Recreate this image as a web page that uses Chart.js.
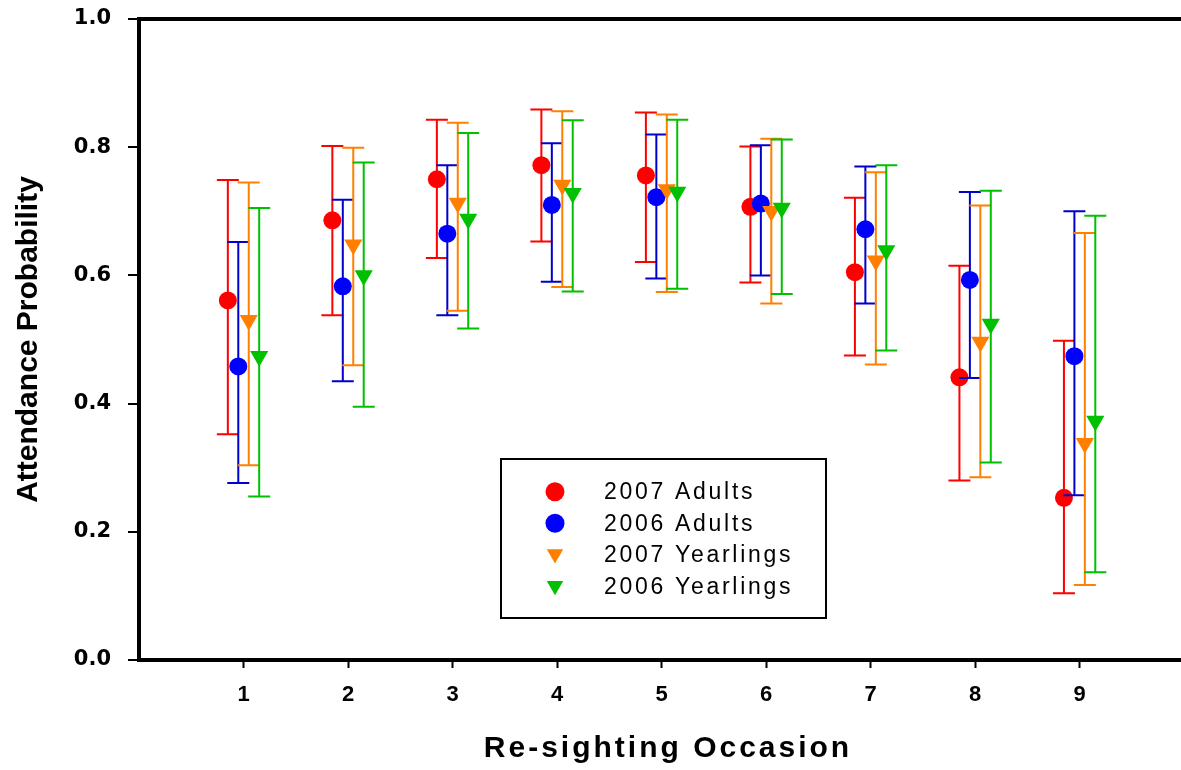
<!DOCTYPE html>
<html>
<head>
<meta charset="utf-8">
<script src="https://cdn.jsdelivr.net/npm/chart.js@4.4.1/dist/chart.umd.min.js"></script>
<style>
  html, body { margin: 0; padding: 0; background: #ffffff; }
  #wrap { width: 1181px; height: 770px; }
</style>
</head>
<body>
<div id="wrap"><canvas id="c" width="1181" height="770"></canvas></div>
<script>
// ---------------- data ----------------
const occasions = [1, 2, 3, 4, 5, 6, 7, 8, 9];
const xTickLabels = ['1', '2', '3', '4', '5', '6', '7', '8', '9'];
const yTickValues = [0, 0.2, 0.4, 0.6, 0.8, 1.0];
const yTickLabels = ['0.0', '0.2', '0.4', '0.6', '0.8', '1.0'];
const seriesNames = ['2007 Adults', '2006 Adults', '2007 Yearlings', '2006 Yearlings'];

const adults2007     = [0.561, 0.686, 0.750, 0.772, 0.756, 0.707, 0.605, 0.441, 0.253];
const adults2007Low  = [0.352, 0.538, 0.627, 0.653, 0.621, 0.589, 0.475, 0.280, 0.104];
const adults2007High = [0.749, 0.802, 0.843, 0.859, 0.854, 0.801, 0.721, 0.615, 0.498];

const adults2006     = [0.458, 0.583, 0.665, 0.710, 0.722, 0.712, 0.672, 0.593, 0.474];
const adults2006Low  = [0.276, 0.435, 0.538, 0.590, 0.595, 0.600, 0.556, 0.440, 0.257];
const adults2006High = [0.652, 0.718, 0.772, 0.806, 0.820, 0.803, 0.770, 0.730, 0.700];

const yearlings2007     = [0.530, 0.648, 0.713, 0.741, 0.734, 0.700, 0.623, 0.496, 0.338];
const yearlings2007Low  = [0.304, 0.460, 0.545, 0.582, 0.574, 0.556, 0.461, 0.285, 0.117];
const yearlings2007High = [0.745, 0.799, 0.838, 0.856, 0.851, 0.813, 0.761, 0.709, 0.666];

const yearlings2006     = [0.474, 0.600, 0.688, 0.728, 0.730, 0.705, 0.639, 0.524, 0.373];
const yearlings2006Low  = [0.255, 0.395, 0.517, 0.575, 0.579, 0.571, 0.483, 0.308, 0.137];
const yearlings2006High = [0.705, 0.776, 0.822, 0.842, 0.843, 0.812, 0.772, 0.732, 0.693];

// ---------------- build ----------------
function points(vals, lows, highs, dodge) {
  return occasions.map((o, i) => ({ x: o + dodge, y: vals[i], lo: lows[i], hi: highs[i] }));
}

const seriesStyle = [
  { fill: '#ff0000', bar: '#ff0000', style: 'circle',   radius: 9,    rot: 0,   dodge: -0.15 },
  { fill: '#0000ff', bar: '#0000cc', style: 'circle',   radius: 9,    rot: 0,   dodge: -0.05 },
  { fill: '#ff8000', bar: '#ff8000', style: 'triangle', radius: 10.5, rot: 180, dodge: 0.05 },
  { fill: '#00c000', bar: '#00c000', style: 'triangle', radius: 10.5, rot: 180, dodge: 0.15 }
];
const seriesData = [
  [adults2007, adults2007Low, adults2007High],
  [adults2006, adults2006Low, adults2006High],
  [yearlings2007, yearlings2007Low, yearlings2007High],
  [yearlings2006, yearlings2006Low, yearlings2006High]
];

const datasets = seriesNames.map((name, k) => {
  const s = seriesStyle[k];
  const d = seriesData[k];
  return {
    label: name,
    data: points(d[0], d[1], d[2], s.dodge),
    showLine: false,
    pointStyle: s.style,
    pointRadius: s.radius,
    pointRotation: s.rot,
    backgroundColor: s.fill,
    borderColor: s.fill,
    pointBorderWidth: 0,
    errorColor: s.bar,
    order: 4 - k
  };
});

// error bars drawn through the chart's scales, before each dataset's markers
const errorBarPlugin = {
  id: 'errorBars',
  beforeDatasetDraw(chart, args) {
    const ds = chart.data.datasets[args.index];
    const xs = chart.scales.x, ys = chart.scales.y;
    const ctx = chart.ctx;
    const cap = 11;
    ctx.save();
    ctx.strokeStyle = ds.errorColor;
    ctx.lineWidth = 2;
    ctx.lineCap = 'butt';
    ds.data.forEach(p => {
      const x = xs.getPixelForValue(p.x);
      const yl = ys.getPixelForValue(p.lo);
      const yh = ys.getPixelForValue(p.hi);
      ctx.beginPath();
      ctx.moveTo(x, yl); ctx.lineTo(x, yh);
      ctx.moveTo(x - cap, yl); ctx.lineTo(x + cap, yl);
      ctx.moveTo(x - cap, yh); ctx.lineTo(x + cap, yh);
      ctx.stroke();
    });
    ctx.restore();
  }
};

function drawMarker(ctx, style, radius, rot, x, y) {
  if (Chart.helpers && Chart.helpers.drawPoint) {
    Chart.helpers.drawPoint(ctx, { pointStyle: style, radius: radius, rotation: rot, borderWidth: 0 }, x, y);
  } else {
    ctx.beginPath();
    if (style === 'circle') {
      ctx.arc(x, y, radius, 0, Math.PI * 2);
    } else {
      ctx.moveTo(x, y + radius);
      ctx.lineTo(x - radius * 0.866, y - radius / 2);
      ctx.lineTo(x + radius * 0.866, y - radius / 2);
      ctx.closePath();
    }
    ctx.fill();
  }
}

// boxed legend + axis titles
const decorPlugin = {
  id: 'decor',
  afterDraw(chart) {
    const ctx = chart.ctx;
    const area = chart.chartArea;
    ctx.save();
    // legend box
    ctx.lineWidth = 2;
    ctx.strokeStyle = '#000000';
    ctx.strokeRect(501, 459, 325, 159);
    const rowY = [491.7, 523.3, 555, 586.7];
    ctx.font = '23px "Liberation Sans", Arial, sans-serif';
    ctx.textBaseline = 'middle';
    ctx.textAlign = 'left';
    seriesNames.forEach((name, k) => {
      const s = seriesStyle[k];
      ctx.fillStyle = s.fill;
      ctx.strokeStyle = s.fill;
      drawMarker(ctx, s.style, 9.5, s.rot, 555, rowY[k] + (s.style === 'circle' ? 0 : -1));
      ctx.fillStyle = '#000000';
      try { ctx.letterSpacing = '2.7px'; } catch (e) {}
      ctx.fillText(name, 604, rowY[k] + 1);
      try { ctx.letterSpacing = '0px'; } catch (e) {}
    });
    // x axis title
    ctx.fillStyle = '#000000';
    ctx.font = 'bold 30px "Liberation Sans", Arial, sans-serif';
    ctx.textAlign = 'center';
    ctx.textBaseline = 'alphabetic';
    try { ctx.letterSpacing = '3px'; } catch (e) {}
    ctx.fillText('Re-sighting Occasion', 668, 757);
    try { ctx.letterSpacing = '0px'; } catch (e) {}
    // y axis title
    ctx.translate(36.5, (area.top + area.bottom) / 2);
    ctx.rotate(-Math.PI / 2);
    ctx.fillText('Attendance Probability', 0, 0);
    ctx.restore();
  }
};

function zeroPadding(scale) {
  scale.paddingTop = 0;
  scale.paddingBottom = 0;
  scale.paddingLeft = 0;
  scale.paddingRight = 0;
}

new Chart(document.getElementById('c'), {
  type: 'scatter',
  data: { datasets: datasets },
  plugins: [errorBarPlugin, decorPlugin],
  options: {
    responsive: false,
    animation: false,
    devicePixelRatio: 1,
    events: [],
    layout: { autoPadding: false, padding: { top: 19, right: 0, left: 0, bottom: 0 } },
    plugins: { legend: { display: false }, tooltip: { enabled: false }, title: { display: false } },
    scales: {
      x: {
        type: 'linear',
        min: 0,
        max: 9.97,
        afterFit(scale) { scale.height = 110; zeroPadding(scale); },
        afterBuildTicks(scale) { scale.ticks = occasions.map(v => ({ value: v })); },
        border: { display: true, color: '#000000', width: 4 },
        grid: { display: true, drawOnChartArea: false, drawTicks: true, tickLength: 8, tickWidth: 2, tickColor: '#000000' },
        ticks: {
          padding: 14,
          color: '#000000',
          maxRotation: 0,
          autoSkip: false,
          font: { family: '"Liberation Sans", Arial, sans-serif', weight: 'bold', size: 22 },
          callback: (v, i) => xTickLabels[i]
        }
      },
      y: {
        type: 'linear',
        min: 0,
        max: 1,
        afterFit(scale) { scale.width = 139; zeroPadding(scale); },
        afterBuildTicks(scale) { scale.ticks = yTickValues.map(v => ({ value: v })); },
        border: { display: true, color: '#000000', width: 4 },
        grid: {
          display: true,
          drawOnChartArea: true,
          drawTicks: true,
          color: '#000000',
          lineWidth: (c) => (c.tick && c.tick.value === 1) ? 4 : 0,
          tickLength: 11,
          tickWidth: 2,
          tickColor: '#000000'
        },
        ticks: {
          padding: 17,
          color: '#000000',
          font: { family: '"DejaVu Sans", sans-serif', weight: 'bold', size: 21 },
          callback: (v, i) => yTickLabels[i]
        }
      }
    }
  }
});
</script>
</body>
</html>
